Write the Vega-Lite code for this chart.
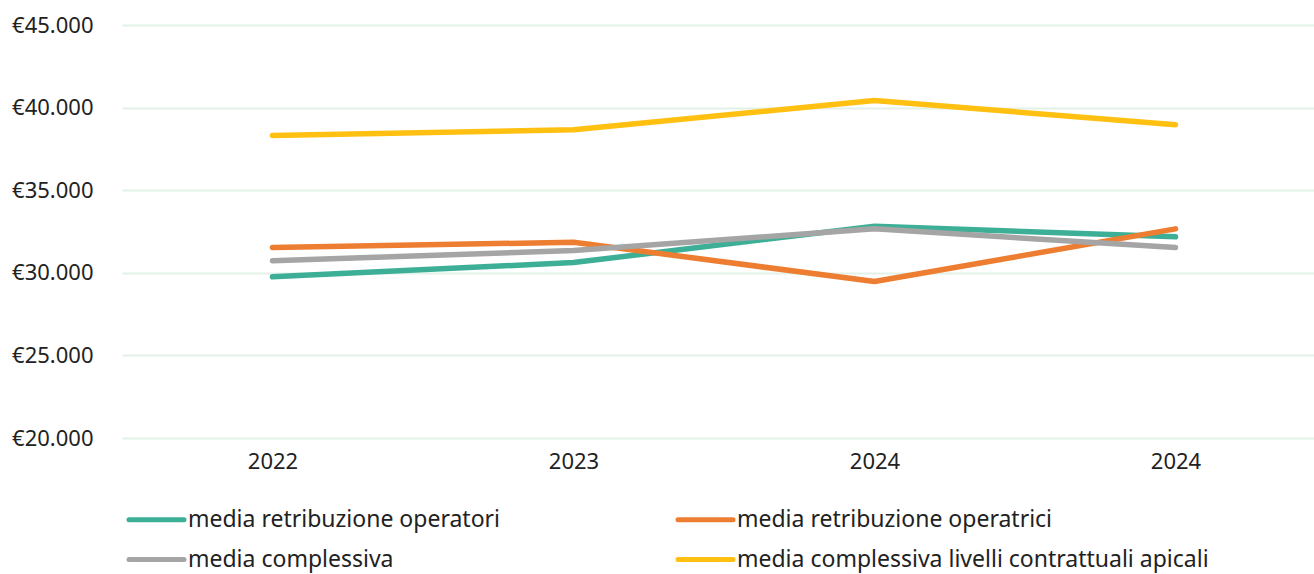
{
  "$schema": "https://vega.github.io/schema/vega-lite/v6.json",
  "width": 1204,
  "height": 413,
  "autosize": {"type": "none"},
  "padding": {"left": 122, "top": 25, "right": 0, "bottom": 136},
  "background": "white",
  "config": {
    "view": {"stroke": null},
    "font": "Noto Sans",
    "locale": {
      "number": {"decimal": ",", "thousands": ".", "grouping": [3], "currency": ["€", ""]}
    }
  },
  "data": {
    "values": [
      {"periodo": "2022 a", "serie": "media retribuzione operatori", "valore": 29760},
      {"periodo": "2023 b", "serie": "media retribuzione operatori", "valore": 30620},
      {"periodo": "2024 c", "serie": "media retribuzione operatori", "valore": 32820},
      {"periodo": "2024 d", "serie": "media retribuzione operatori", "valore": 32180},
      {"periodo": "2022 a", "serie": "media retribuzione operatrici", "valore": 31530},
      {"periodo": "2023 b", "serie": "media retribuzione operatrici", "valore": 31850},
      {"periodo": "2024 c", "serie": "media retribuzione operatrici", "valore": 29470},
      {"periodo": "2024 d", "serie": "media retribuzione operatrici", "valore": 32660},
      {"periodo": "2022 a", "serie": "media complessiva", "valore": 30730},
      {"periodo": "2023 b", "serie": "media complessiva", "valore": 31350},
      {"periodo": "2024 c", "serie": "media complessiva", "valore": 32660},
      {"periodo": "2024 d", "serie": "media complessiva", "valore": 31530},
      {"periodo": "2022 a", "serie": "media complessiva livelli contrattuali apicali", "valore": 38310},
      {"periodo": "2023 b", "serie": "media complessiva livelli contrattuali apicali", "valore": 38660},
      {"periodo": "2024 c", "serie": "media complessiva livelli contrattuali apicali", "valore": 40430},
      {"periodo": "2024 d", "serie": "media complessiva livelli contrattuali apicali", "valore": 38960}
    ]
  },
  "mark": {"type": "line", "strokeWidth": 5.5, "strokeCap": "round", "strokeJoin": "round"},
  "encoding": {
    "x": {
      "field": "periodo",
      "type": "ordinal",
      "scale": {"type": "point", "padding": 0.5},
      "axis": {
        "title": null,
        "labelAngle": 0,
        "labelExpr": "substring(datum.label, 0, 4)",
        "domain": false,
        "ticks": false,
        "grid": false,
        "labelFontSize": 22,
        "labelColor": "#222222",
        "labelPadding": 13
      }
    },
    "y": {
      "field": "valore",
      "type": "quantitative",
      "scale": {"domain": [20000, 45000], "nice": false, "zero": false},
      "axis": {
        "title": null,
        "values": [20000, 25000, 30000, 35000, 40000, 45000],
        "format": "$,.0f",
        "domain": false,
        "ticks": false,
        "labelFontSize": 22,
        "labelColor": "#222222",
        "labelPadding": 29,
        "gridColor": "#E3F1E8",
        "gridWidth": 2
      }
    },
    "color": {
      "field": "serie",
      "type": "nominal",
      "sort": ["media retribuzione operatori", "media retribuzione operatrici", "media complessiva", "media complessiva livelli contrattuali apicali"],
      "scale": {
        "domain": ["media retribuzione operatori", "media retribuzione operatrici", "media complessiva", "media complessiva livelli contrattuali apicali"],
        "range": ["#3DAF96", "#ED7D31", "#A5A5A5", "#FFC012"]
      },
      "legend": {
        "title": null,
        "orient": "none",
        "direction": "horizontal",
        "legendX": 23,
        "legendY": 483,
        "columns": 2,
        "columnPadding": 168,
        "rowPadding": 16,
        "padding": 0,
        "symbolType": "M-5,0H5",
        "symbolSize": 121,
        "symbolStrokeWidth": 5,
        "symbolOpacity": 1,
        "labelFontSize": 23,
        "labelColor": "#222222",
        "labelOffset": 20,
        "labelLimit": 0,
        "encode": {"symbols": {"update": {"strokeCap": {"value": "round"}}}}
      }
    }
  }
}
